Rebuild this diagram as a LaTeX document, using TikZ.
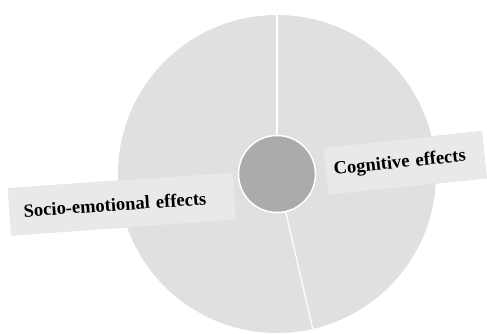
\documentclass[tikz,border=0pt]{standalone}
\usepackage{fontspec}
\setmainfont{Liberation Serif}
\definecolor{discgray}{HTML}{E0E0E0}
\definecolor{hubgray}{HTML}{ABABAB}
\definecolor{boxgray}{HTML}{E9E9E9}
\tikzset{
  effectbox/.style={fill=boxgray, draw=black!10, line width=0.6pt, align=left,
    minimum height=47pt, font=\fontsize{18.5}{20}\selectfont\bfseries}
}
\begin{document}
\begin{tikzpicture}[x=1pt, y=1pt]
	\useasboundingbox (0,0) rectangle (487,333);

	% disc and hub
	\node[circle, fill=discgray, minimum size=318pt, inner sep=0pt, outer sep=0pt] (rim) at (277,159) {};
	\node[circle, fill=hubgray, draw=white, line width=1.5pt, minimum size=77pt, inner sep=0pt, outer sep=0pt] (hub) at (277,159) {};

	% dividers
	\draw[white, line width=1.2pt] (hub.90) -- (rim.90);
	\draw[white, line width=1.2pt] (hub.-77.6) -- (rim.-77.6);

	% labels
	\node[effectbox, rotate=4, inner xsep=14pt, text width=197pt] (socio) at (122,129) {Socio-emotional effects};
	\node[effectbox, rotate=6, inner xsep=8pt, text width=143pt] (cogn) at (405,170) {Cognitive effects};
\end{tikzpicture}
\end{document}
